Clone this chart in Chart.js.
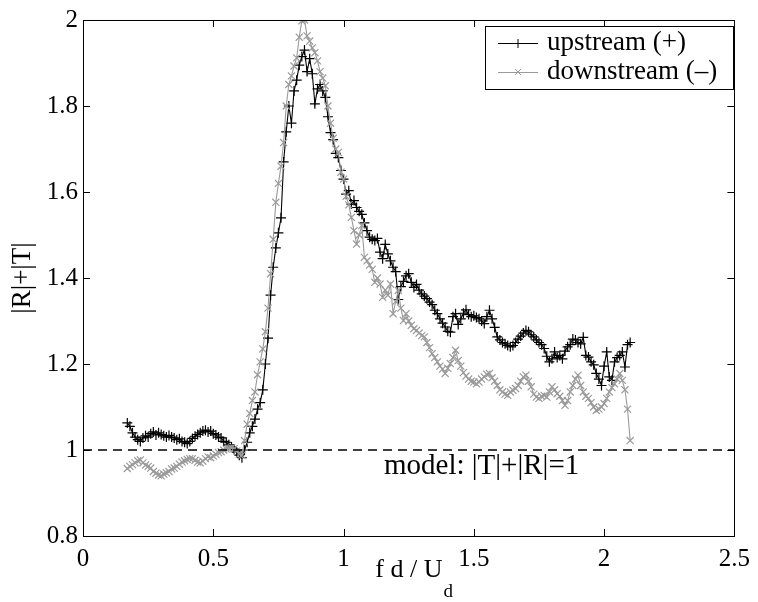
<!DOCTYPE html>
<html>
<head>
<meta charset="utf-8">
<script src="https://cdn.jsdelivr.net/npm/chart.js@4/dist/chart.umd.min.js"></script>
<style>
  html, body { margin: 0; padding: 0; background: #fff; }
  #wrap { width: 758px; height: 602px; }
</style>
</head>
<body>
<div id="wrap"><canvas id="chart" width="758" height="602"></canvas></div>
<script>
// f d / U_d
const freq = [
  0.17, 0.18, 0.19, 0.20, 0.21, 0.22, 0.23, 0.24, 0.25, 0.26, 0.27, 0.28, 0.29, 0.30, 0.31, 0.32, 0.33, 0.34, 0.35, 0.36,
  0.37, 0.38, 0.39, 0.40, 0.41, 0.42, 0.43, 0.44, 0.45, 0.46, 0.47, 0.48, 0.49, 0.50, 0.51, 0.52, 0.53, 0.54, 0.55, 0.56,
  0.57, 0.58, 0.59, 0.60, 0.61, 0.62, 0.63, 0.64, 0.65, 0.66, 0.67, 0.68, 0.69, 0.70, 0.71, 0.72, 0.73, 0.74, 0.75, 0.76,
  0.77, 0.78, 0.79, 0.80, 0.81, 0.82, 0.83, 0.84, 0.85, 0.86, 0.87, 0.88, 0.89, 0.90, 0.91, 0.92, 0.93, 0.94, 0.95, 0.96,
  0.97, 0.98, 0.99, 1.00, 1.01, 1.02, 1.03, 1.04, 1.05, 1.06, 1.07, 1.08, 1.09, 1.10, 1.11, 1.12, 1.13, 1.14, 1.15, 1.16,
  1.17, 1.18, 1.19, 1.20, 1.21, 1.22, 1.23, 1.24, 1.25, 1.26, 1.27, 1.28, 1.29, 1.30, 1.31, 1.32, 1.33, 1.34, 1.35, 1.36,
  1.37, 1.38, 1.39, 1.40, 1.41, 1.42, 1.43, 1.44, 1.45, 1.46, 1.47, 1.48, 1.49, 1.50, 1.51, 1.52, 1.53, 1.54, 1.55, 1.56,
  1.57, 1.58, 1.59, 1.60, 1.61, 1.62, 1.63, 1.64, 1.65, 1.66, 1.67, 1.68, 1.69, 1.70, 1.71, 1.72, 1.73, 1.74, 1.75, 1.76,
  1.77, 1.78, 1.79, 1.80, 1.81, 1.82, 1.83, 1.84, 1.85, 1.86, 1.87, 1.88, 1.89, 1.90, 1.91, 1.92, 1.93, 1.94, 1.95, 1.96,
  1.97, 1.98, 1.99, 2.00, 2.01, 2.02, 2.03, 2.04, 2.05, 2.06, 2.07, 2.08, 2.09, 2.10
]

// |R|+|T|, upstream (+)
const upstream = [
  1.063, 1.055, 1.040, 1.030, 1.024, 1.020, 1.028, 1.033, 1.030, 1.038, 1.042, 1.035, 1.040, 1.036, 1.033, 1.030, 1.034, 1.030, 1.028, 1.024,
  1.026, 1.020, 1.018, 1.015, 1.020, 1.027, 1.032, 1.036, 1.040, 1.044, 1.046, 1.042, 1.044, 1.038, 1.035, 1.030, 1.028, 1.020, 1.018, 1.012,
  1.007, 1.002, 0.995, 0.988, 0.982, 1.000, 1.018, 1.040, 1.055, 1.072, 1.095, 1.110, 1.140, 1.200, 1.260, 1.360, 1.425, 1.470, 1.505, 1.540,
  1.670, 1.740, 1.800, 1.760, 1.835, 1.860, 1.895, 1.915, 1.930, 1.880, 1.910, 1.875, 1.805, 1.840, 1.850, 1.835, 1.820, 1.775, 1.738, 1.722,
  1.690, 1.680, 1.650, 1.630, 1.595, 1.603, 1.572, 1.580, 1.564, 1.555, 1.548, 1.528, 1.510, 1.495, 1.490, 1.487, 1.492, 1.460, 1.445, 1.478,
  1.456, 1.440, 1.425, 1.415, 1.350, 1.380, 1.392, 1.405, 1.410, 1.390, 1.378, 1.385, 1.372, 1.363, 1.358, 1.352, 1.344, 1.338, 1.325, 1.317,
  1.305, 1.295, 1.286, 1.276, 1.274, 1.310, 1.317, 1.292, 1.305, 1.318, 1.326, 1.315, 1.310, 1.312, 1.308, 1.305, 1.300, 1.294, 1.310, 1.325,
  1.305, 1.285, 1.263, 1.256, 1.250, 1.247, 1.243, 1.240, 1.243, 1.250, 1.258, 1.265, 1.272, 1.278, 1.275, 1.268, 1.263, 1.256, 1.250, 1.245,
  1.236, 1.218, 1.205, 1.212, 1.228, 1.215, 1.220, 1.212, 1.230, 1.240, 1.245, 1.258, 1.256, 1.250, 1.247, 1.262, 1.220, 1.216, 1.205, 1.198,
  1.178, 1.165, 1.150, 1.195, 1.228, 1.170, 1.162, 1.205, 1.215, 1.220, 1.228, 1.193, 1.245, 1.250
]

// |R|+|T|, downstream (-)
const downstream = [
  0.957, 0.962, 0.966, 0.970, 0.975, 0.977, 0.970, 0.965, 0.962, 0.958, 0.950, 0.946, 0.942, 0.940, 0.944, 0.947, 0.950, 0.956, 0.958, 0.962,
  0.967, 0.972, 0.975, 0.978, 0.980, 0.980, 0.976, 0.972, 0.970, 0.974, 0.980, 0.984, 0.982, 0.986, 0.990, 0.994, 0.996, 1.000, 1.002, 1.004,
  1.005, 1.003, 0.998, 0.990, 0.988, 1.022, 1.060, 1.085, 1.115, 1.135, 1.175, 1.205, 1.235, 1.275, 1.330, 1.410, 1.490, 1.576, 1.620, 1.660,
  1.715, 1.800, 1.850, 1.870, 1.893, 1.912, 1.960, 1.998, 2.000, 1.963, 1.951, 1.935, 1.924, 1.905, 1.880, 1.865, 1.847, 1.800, 1.760, 1.725,
  1.700, 1.692, 1.646, 1.630, 1.590, 1.570, 1.541, 1.510, 1.479, 1.500, 1.522, 1.448, 1.440, 1.430, 1.420, 1.390, 1.400, 1.386, 1.355, 1.372,
  1.360, 1.386, 1.317, 1.345, 1.371, 1.330, 1.301, 1.317, 1.300, 1.290, 1.282, 1.278, 1.272, 1.266, 1.263, 1.250, 1.238, 1.224, 1.215, 1.205,
  1.195, 1.188, 1.178, 1.190, 1.201, 1.215, 1.232, 1.208, 1.195, 1.180, 1.172, 1.165, 1.160, 1.158, 1.154, 1.158, 1.165, 1.170, 1.176, 1.178,
  1.168, 1.160, 1.150, 1.140, 1.135, 1.130, 1.127, 1.135, 1.139, 1.143, 1.150, 1.160, 1.170, 1.174, 1.160, 1.147, 1.130, 1.123, 1.120, 1.125,
  1.127, 1.123, 1.135, 1.147, 1.140, 1.131, 1.125, 1.115, 1.104, 1.115, 1.135, 1.150, 1.165, 1.174, 1.150, 1.135, 1.125, 1.120, 1.110, 1.100,
  1.092, 1.095, 1.100, 1.108, 1.120, 1.135, 1.145, 1.154, 1.165, 1.178, 1.162, 1.140, 1.095, 1.022
]

const xTicks = [0, 0.5, 1, 1.5, 2, 2.5]
const yTicks = [0.8, 1, 1.2, 1.4, 1.6, 1.8, 2]
const modelLevel = 1
const seriesNames = ['upstream (+)', 'downstream (\u2013)']
const modelLabel = 'model: |T|+|R|=1'

const FONT = 'Liberation Serif, Times New Roman, serif'
const GREY = '#9a9a9a'

const pts = ys => freq.map((x, i) => ({ x: x, y: ys[i] }))

// frame, inside ticks, titles, legend and model label
const decor = {
    id: 'decor',
    afterDraw(chart) {
        const ctx = chart.ctx
        const a = chart.chartArea
        const sx = chart.scales.x
        const sy = chart.scales.y
        ctx.save()
        ctx.strokeStyle = '#000'
        ctx.lineWidth = 1
        ctx.strokeRect(Math.round(a.left) + 0.5, Math.round(a.top) + 0.5, Math.round(a.right - a.left), Math.round(a.bottom - a.top))
        ctx.beginPath()
        xTicks.forEach(v => {
            const p = Math.round(sx.getPixelForValue(v)) + 0.5
            ctx.moveTo(p, a.bottom); ctx.lineTo(p, a.bottom - 7)
            ctx.moveTo(p, a.top); ctx.lineTo(p, a.top + 7)
        })
        yTicks.forEach(v => {
            const p = Math.round(sy.getPixelForValue(v)) + 0.5
            ctx.moveTo(a.left, p); ctx.lineTo(a.left + 7, p)
            ctx.moveTo(a.right, p); ctx.lineTo(a.right - 7, p)
        })
        ctx.stroke()

        ctx.fillStyle = '#000'
        // x title with subscript
        ctx.font = '26px ' + FONT
        ctx.textBaseline = 'alphabetic'
        const main = 'f d / U'
        const wMain = ctx.measureText(main).width
        ctx.font = '19px ' + FONT
        const wSub = ctx.measureText('d').width
        let tx = (a.left + a.right) / 2 - (wMain + wSub) / 2 + 5
        ctx.font = '26px ' + FONT
        ctx.textAlign = 'left'
        ctx.fillText(main, tx, 577)
        ctx.font = '19px ' + FONT
        ctx.fillText('d', tx + wMain + 1, 597)

        // y title
        ctx.save()
        ctx.translate(30, (a.top + a.bottom) / 2)
        ctx.rotate(-Math.PI / 2)
        ctx.font = '27px ' + FONT
        ctx.textAlign = 'center'
        ctx.fillText('|R|+|T|', 0, 0)
        ctx.restore()

        // model label
        ctx.font = '29px ' + FONT
        ctx.textAlign = 'left'
        ctx.fillText(modelLabel, 384, 474)

        // legend
        const lx = 485.5, ly = 26.5, lw = 248, lh = 63
        ctx.fillStyle = '#fff'
        ctx.fillRect(lx, ly, lw, lh)
        ctx.strokeRect(lx, ly, lw, lh)
        const rows = [
            { y: 43, color: '#000', cross: true, text: seriesNames[0] },
            { y: 72, color: GREY, cross: false, text: seriesNames[1] }
        ]
        rows.forEach(r => {
            ctx.strokeStyle = r.color
            ctx.beginPath()
            ctx.moveTo(498, r.y + 0.5); ctx.lineTo(538, r.y + 0.5)
            const m = 518
            if (r.cross) {
                ctx.moveTo(m, r.y - 4); ctx.lineTo(m, r.y + 5)
            } else {
                ctx.moveTo(m - 3, r.y - 3); ctx.lineTo(m + 3, r.y + 3)
                ctx.moveTo(m - 3, r.y + 3); ctx.lineTo(m + 3, r.y - 3)
            }
            ctx.stroke()
            ctx.fillStyle = '#000'
            ctx.font = '27px ' + FONT
            ctx.textBaseline = 'middle'
            ctx.fillText(r.text, 547, r.y)
        })
        ctx.restore()
    }
}

const ctx = document.getElementById('chart').getContext('2d')
const chart = new Chart(ctx, {
    type: 'scatter',
    data: {
        datasets: [
            {
                label: seriesNames[0],
                data: pts(upstream),
                showLine: true,
                borderColor: '#000',
                borderWidth: 1.1,
                pointStyle: 'cross',
                pointRadius: 5,
                pointBorderColor: '#000',
                pointBorderWidth: 1.2,
                order: 2
            },
            {
                label: seriesNames[1],
                data: pts(downstream),
                showLine: true,
                borderColor: GREY,
                borderWidth: 1.1,
                pointStyle: 'crossRot',
                pointRadius: 5,
                pointBorderColor: GREY,
                pointBorderWidth: 1.2,
                order: 1
            },
            {
                label: 'model',
                data: [{ x: xTicks[0], y: modelLevel }, { x: xTicks[xTicks.length - 1], y: modelLevel }],
                showLine: true,
                borderColor: '#000',
                borderWidth: 1.5,
                borderDash: [9, 6],
                pointRadius: 0,
                order: 0
            }
        ]
    },
    options: {
        responsive: false,
        animation: false,
        devicePixelRatio: 1,
        layout: { padding: { left: 0, right: 19, top: 19, bottom: 0 } },
        plugins: { legend: { display: false }, tooltip: { enabled: false } },
        scales: {
            x: {
                type: 'linear',
                min: 0,
                max: 2.5,
                afterBuildTicks: s => { s.ticks = xTicks.map(v => ({ value: v })) },
                afterFit: s => { s.height = 66 },
                grid: { display: false, drawTicks: false },
                border: { display: false },
                ticks: {
                    color: '#000',
                    padding: 8,
                    maxRotation: 0,
                    font: { family: FONT, size: 25 },
                    callback: v => String(+v.toFixed(2))
                }
            },
            y: {
                min: 0.8,
                max: 2,
                afterBuildTicks: s => { s.ticks = yTicks.map(v => ({ value: v })) },
                afterFit: s => { s.width = 83 },
                grid: { display: false, drawTicks: false },
                border: { display: false },
                ticks: {
                    color: '#000',
                    padding: 5,
                    font: { family: FONT, size: 25 },
                    callback: v => String(+v.toFixed(2))
                }
            }
        }
    },
    plugins: [decor]
})
</script>
</body>
</html>
